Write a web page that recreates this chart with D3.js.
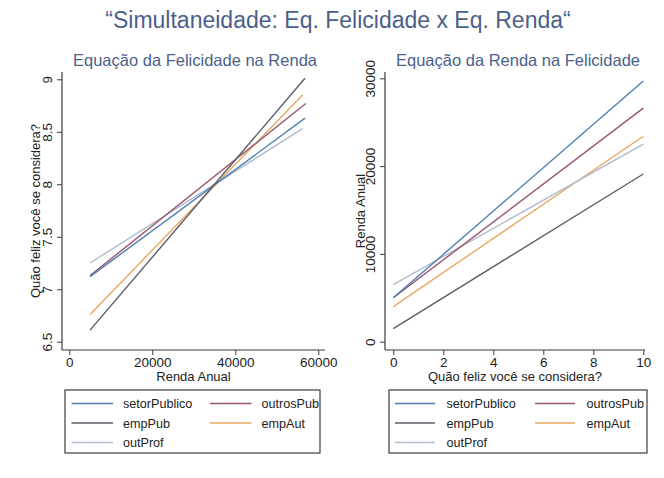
<!DOCTYPE html>
<html>
<head>
<meta charset="utf-8">
<script src="https://cdn.jsdelivr.net/npm/d3@7"></script>
<style>
  body { margin: 0; background: #fff; }
  text { font-family: "Liberation Sans", Arial, Helvetica, sans-serif; }
</style>
</head>
<body>
<svg id="chart" width="664" height="478"></svg>
<script>
// Occupational groups (one fitted line per group in each panel)
const series = ["setorPublico", "outrosPub", "empPub", "empAut", "outProf"];

// Happiness equation: fitted happiness over each group's income range
const felRendaInicio = [5000, 5000, 5000, 5000, 5000];
const felRendaFim    = [56800, 57000, 56800, 56200, 56200];
const felValorInicio = [7.12, 7.13, 6.61, 6.76, 7.25];
const felValorFim    = [8.63, 8.77, 9.01, 8.85, 8.53];

// Income equation: fitted annual income over happiness 0..10
const rendaFelInicio   = [0, 0, 0, 0, 0];
const rendaFelFim      = [10, 10, 10, 10, 10];
const rendaValorInicio = [5000, 5000, 1500, 4000, 6500];
const rendaValorFim    = [29700, 26600, 19100, 23400, 22500];

// Tick labels
const felTicksX   = [0, 20000, 40000, 60000];
const felTicksY   = [6.5, 7, 7.5, 8, 8.5, 9];
const rendaTicksX = [0, 2, 4, 6, 8, 10];
const rendaTicksY = [0, 10000, 20000, 30000];

const colors = {
  setorPublico: "#4e7eb2",
  outrosPub: "#96566c",
  empPub: "#5a5e68",
  empAut: "#e8a862",
  outProf: "#aebbd2"
};

const svg = d3.select("#chart");
const titleColor = "#4b5f8a";
const axisColor = "#3a3a3a";
const textColor = "#222";

svg.append("text")
  .attr("x", 338).attr("y", 28)
  .attr("text-anchor", "middle")
  .attr("font-size", 23)
  .attr("fill", titleColor)
  .text("“Simultaneidade: Eq. Felicidade x Eq. Renda“");

function panel(cfg) {
  const g = svg.append("g");
  const x = d3.scaleLinear().domain(cfg.xDomain).range(cfg.xRange);
  const y = d3.scaleLinear().domain(cfg.yDomain).range(cfg.yRange);

  g.append("text")
    .attr("x", cfg.titleX).attr("y", 66)
    .attr("text-anchor", "middle")
    .attr("font-size", 16.5)
    .attr("fill", titleColor)
    .text(cfg.title);

  // fitted lines
  const lines = series.map((s, i) => ({
    name: s,
    pts: [[cfg.x0[i], cfg.y0[i]], [cfg.x1[i], cfg.y1[i]]]
  }));
  const lineGen = d3.line().x(d => x(d[0])).y(d => y(d[1]));
  g.append("g").selectAll("path")
    .data(cfg.drawOrder.map(n => lines.find(l => l.name === n)))
    .join("path")
    .attr("d", d => lineGen(d.pts))
    .attr("fill", "none")
    .attr("stroke", d => colors[d.name])
    .attr("stroke-width", 1.4);

  // axis lines
  g.append("line")
    .attr("x1", cfg.axisX).attr("x2", cfg.axisX)
    .attr("y1", cfg.axisTop).attr("y2", cfg.axisY)
    .attr("stroke", axisColor).attr("stroke-width", 1.2);
  g.append("line")
    .attr("x1", cfg.axisX).attr("x2", cfg.axisRight)
    .attr("y1", cfg.axisY).attr("y2", cfg.axisY)
    .attr("stroke", axisColor).attr("stroke-width", 1.2);

  const fmt = d => String(d);

  const xa = g.append("g")
    .attr("transform", `translate(0,${cfg.axisY})`)
    .call(d3.axisBottom(x).tickValues(cfg.xTicks).tickSize(5).tickPadding(2.5).tickFormat(fmt));
  xa.select(".domain").remove();
  xa.selectAll("line").attr("stroke", axisColor);
  xa.selectAll("text")
    .attr("font-size", 13.5)
    .attr("fill", textColor)
    .attr("font-family", null);

  const ya = g.append("g")
    .attr("transform", `translate(${cfg.axisX},0)`)
    .call(d3.axisLeft(y).tickValues(cfg.yTicks).tickSize(5).tickFormat(fmt));
  ya.select(".domain").remove();
  ya.selectAll("line").attr("stroke", axisColor);
  ya.selectAll("text")
    .attr("x", 0).attr("dy", 0)
    .attr("text-anchor", "middle")
    .attr("transform", "translate(-10,0) rotate(-90)")
    .attr("font-size", 13.5)
    .attr("fill", textColor)
    .attr("font-family", null);
  g.selectAll(".tick text").attr("font-family", null);
  svg.selectAll("g[font-family]").attr("font-family", null);

  // axis titles
  g.append("text")
    .attr("x", (cfg.axisX + cfg.axisRight) / 2).attr("y", 381)
    .attr("text-anchor", "middle")
    .attr("font-size", 13)
    .attr("fill", textColor)
    .text(cfg.xTitle);
  const yMid = (cfg.axisTop + cfg.axisY) / 2;
  g.append("text")
    .attr("transform", `translate(${cfg.axisX - cfg.yTitleOffset},${yMid}) rotate(-90)`)
    .attr("text-anchor", "middle")
    .attr("font-size", 13)
    .attr("fill", textColor)
    .text(cfg.yTitle);

  // legend
  const lg = g.append("g");
  lg.append("rect")
    .attr("x", cfg.legend.x).attr("y", 390)
    .attr("width", cfg.legend.w).attr("height", 63)
    .attr("fill", "#fff")
    .attr("stroke", "#3c3c3c").attr("stroke-width", 1.2);
  series.forEach((s, i) => {
    const col = i % 2, row = Math.floor(i / 2);
    const lx = cfg.legend.x + cfg.legend.colX[col];
    const ly = 403.5 + row * 19.5;
    lg.append("line")
      .attr("x1", lx).attr("x2", lx + cfg.legend.lineW)
      .attr("y1", ly).attr("y2", ly)
      .attr("stroke", colors[s]).attr("stroke-width", 1.4);
    lg.append("text")
      .attr("x", lx + cfg.legend.textGap).attr("y", ly + 4.5)
      .attr("font-size", 12.6)
      .attr("fill", textColor)
      .text(s);
  });
}

panel({
  title: "Equação da Felicidade na Renda",
  titleX: 195,
  xDomain: [0, 60000], xRange: [69.3, 318.3],
  yDomain: [6.5, 9], yRange: [341.7, 79.3],
  axisX: 62, axisRight: 325, axisY: 350, axisTop: 72,
  xTicks: felTicksX, yTicks: felTicksY,
  x0: felRendaInicio, x1: felRendaFim, y0: felValorInicio, y1: felValorFim,
  drawOrder: ["outProf", "empAut", "outrosPub", "setorPublico", "empPub"],
  xTitle: "Renda Anual",
  yTitle: "Quão feliz você se considera?",
  yTitleOffset: 22.5,
  legend: { x: 65, w: 255, colX: [6.5, 145], lineW: 41.5, textGap: 51.5 }
});

panel({
  title: "Equação da Renda na Felicidade",
  titleX: 518,
  xDomain: [0, 10], xRange: [393.3, 643.3],
  yDomain: [0, 30000], yRange: [341.7, 78.3],
  axisX: 385, axisRight: 645, axisY: 350, axisTop: 72,
  xTicks: rendaTicksX, yTicks: rendaTicksY,
  x0: rendaFelInicio, x1: rendaFelFim, y0: rendaValorInicio, y1: rendaValorFim,
  drawOrder: ["empPub", "empAut", "outProf", "outrosPub", "setorPublico"],
  xTitle: "Quão feliz você se considera?",
  yTitle: "Renda Anual",
  yTitleOffset: 20,
  legend: { x: 389, w: 258, colX: [6, 146], lineW: 40, textGap: 51.5 }
});
</script>
</body>
</html>
